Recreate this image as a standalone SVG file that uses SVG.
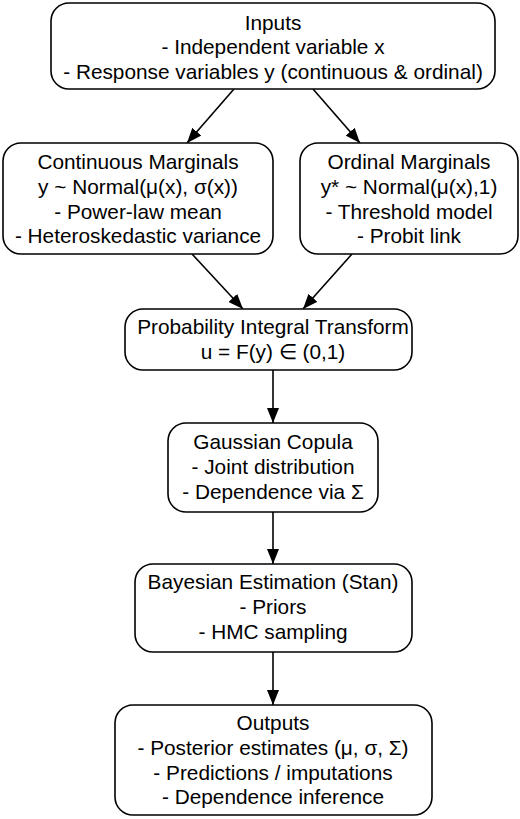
<svg xmlns="http://www.w3.org/2000/svg" width="520" height="819" viewBox="0 0 520 819">
<style>
.box{fill:#fff;stroke:#000;stroke-width:1.6}
.t{font-family:"Liberation Sans",Arial,sans-serif;font-size:20.8px;fill:#000;text-anchor:middle}
.e{stroke:#000;stroke-width:1.6;fill:none;marker-end:url(#ah)}
</style>
<defs>
<marker id="ah" viewBox="0 0 15 12" refX="15" refY="6" markerWidth="15" markerHeight="12" markerUnits="userSpaceOnUse" orient="auto">
<path d="M0,0 L15,6 L0,12 z" fill="#000"/>
</marker>
</defs>
<rect width="520" height="819" fill="#fff"/>
<g id="connectors">
<line class="e" x1="234" y1="89" x2="187" y2="143"/>
<line class="e" x1="313" y1="89" x2="360" y2="143"/>
<line class="e" x1="192" y1="254" x2="243" y2="309"/>
<line class="e" x1="352" y1="254" x2="303" y2="309"/>
<line class="e" x1="273" y1="370" x2="273" y2="423"/>
<line class="e" x1="273" y1="512" x2="273" y2="564"/>
<line class="e" x1="273" y1="652" x2="273" y2="705"/>
</g>
<g id="inputs">
<rect class="box" x="51" y="3" width="444" height="86" rx="18"/>
<text class="t" x="273" y="29.5">Inputs</text>
<text class="t" x="273" y="54">- Independent variable x</text>
<text class="t" x="273" y="78.5">- Response variables y (continuous &amp; ordinal)</text>
</g>
<g id="continuous">
<rect class="box" x="3" y="143" width="270" height="111" rx="18"/>
<text class="t" x="138" y="169">Continuous Marginals</text>
<text class="t" x="138" y="194">y ~ Normal(μ(x), σ(x))</text>
<text class="t" x="138" y="218.5">- Power-law mean</text>
<text class="t" x="138" y="243">- Heteroskedastic variance</text>
</g>
<g id="ordinal">
<rect class="box" x="300" y="143" width="218" height="111" rx="18"/>
<text class="t" x="409" y="169">Ordinal Marginals</text>
<text class="t" x="409" y="194">y* ~ Normal(μ(x),1)</text>
<text class="t" x="409" y="218.5">- Threshold model</text>
<text class="t" x="409" y="243">- Probit link</text>
</g>
<g id="pit">
<rect class="box" x="125" y="309" width="287" height="61" rx="18"/>
<text class="t" x="273" y="334">Probability Integral Transform</text>
<text class="t" x="273" y="359">u = F(y) ∈ (0,1)</text>
</g>
<g id="copula">
<rect class="box" x="168" y="423" width="210" height="89" rx="18"/>
<text class="t" x="273" y="449">Gaussian Copula</text>
<text class="t" x="273" y="474">- Joint distribution</text>
<text class="t" x="273" y="499">- Dependence via Σ</text>
</g>
<g id="bayes">
<rect class="box" x="135" y="564" width="277" height="88" rx="18"/>
<text class="t" x="273" y="589">Bayesian Estimation (Stan)</text>
<text class="t" x="273" y="614">- Priors</text>
<text class="t" x="273" y="639">- HMC sampling</text>
</g>
<g id="outputs">
<rect class="box" x="115" y="705" width="317" height="110" rx="18"/>
<text class="t" x="273" y="730">Outputs</text>
<text class="t" x="273" y="755">- Posterior estimates (μ, σ, Σ)</text>
<text class="t" x="273" y="780">- Predictions / imputations</text>
<text class="t" x="273" y="804">- Dependence inference</text>
</g>
</svg>
